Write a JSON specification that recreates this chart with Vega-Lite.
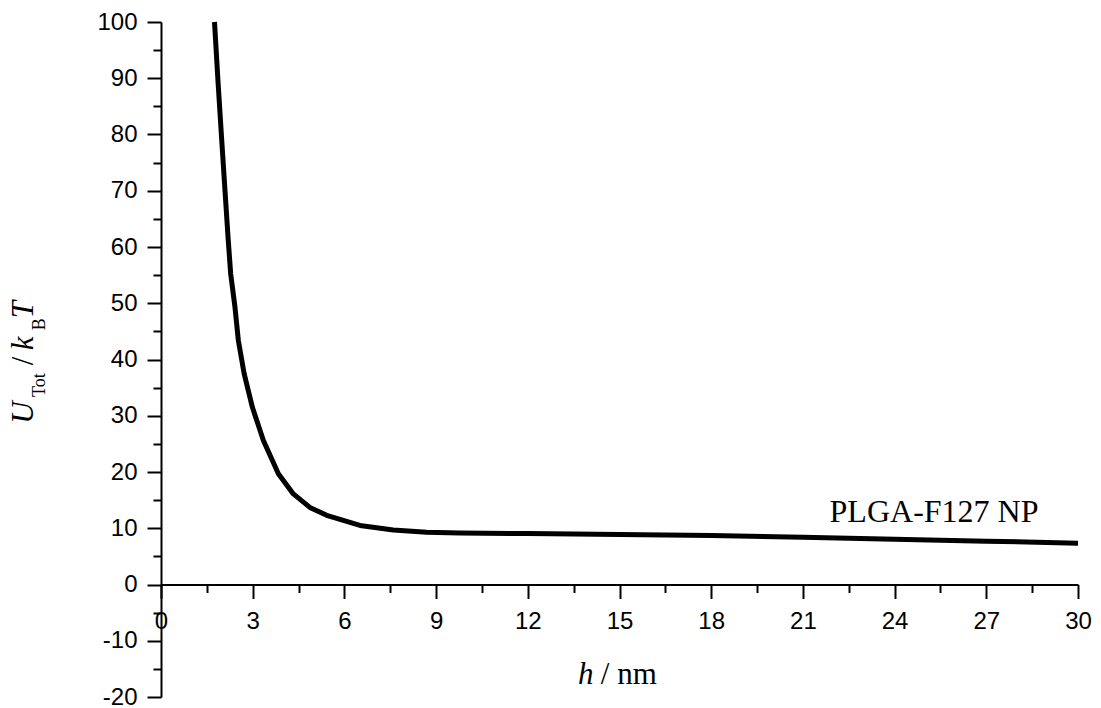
{
  "$schema": "https://vega.github.io/schema/vega-lite/v6.json",
  "width": 917,
  "height": 675,
  "autosize": {"type": "none"},
  "padding": {"left": 161, "top": 22, "right": 23, "bottom": 11},
  "background": "white",
  "config": {
    "view": {"stroke": null},
    "axis": {
      "grid": false,
      "domainColor": "black",
      "domainWidth": 2,
      "tickColor": "black",
      "tickWidth": 2,
      "labelColor": "black",
      "labelFont": "Liberation Sans",
      "labelFontSize": 24,
      "labelFlush": false,
      "labelOverlap": false,
      "title": null
    }
  },
  "datasets": {
    "curve": [
      {"h": 1.75, "U": 100},
      {"h": 1.87, "U": 89},
      {"h": 1.995, "U": 78.3},
      {"h": 2.1, "U": 69.5},
      {"h": 2.2, "U": 61.2},
      {"h": 2.28, "U": 55.2},
      {"h": 2.42, "U": 49.3},
      {"h": 2.53, "U": 43.4},
      {"h": 2.72, "U": 37.5},
      {"h": 2.99, "U": 31.5},
      {"h": 3.35, "U": 25.6},
      {"h": 3.84, "U": 19.7},
      {"h": 4.33, "U": 16.1},
      {"h": 4.87, "U": 13.7},
      {"h": 5.42, "U": 12.3},
      {"h": 6.51, "U": 10.5},
      {"h": 7.6, "U": 9.7},
      {"h": 8.69, "U": 9.3},
      {"h": 9.78, "U": 9.15},
      {"h": 12, "U": 9.05},
      {"h": 15, "U": 8.9},
      {"h": 18, "U": 8.7},
      {"h": 21, "U": 8.4},
      {"h": 24, "U": 8.05},
      {"h": 27, "U": 7.7},
      {"h": 30, "U": 7.35}
    ],
    "label": [{"h": 25.29, "U": 11.2, "text": "PLGA-F127 NP"}],
    "ytitleItalic": [
      {"h": -4.187, "U": 28.6, "text": "U"},
      {"h": -4.187, "U": 41.64, "text": "k"},
      {"h": -4.187, "U": 47.33, "text": "T"}
    ],
    "ytitleRoman": [{"h": -4.187, "U": 38.97, "text": "/"}],
    "ytitleSub": [
      {"h": -3.81, "U": 33.33, "text": "Tot"},
      {"h": -3.81, "U": 45.2, "text": "B"}
    ],
    "xtitleItalic": [{"h": 13.64, "U": -17.67, "text": "h"}],
    "xtitleRoman": [{"h": 14.39, "U": -17.67, "text": "/ nm"}]
  },
  "resolve": {"axis": {"x": "independent", "y": "independent"}},
  "layer": [
    {
      "data": {"name": "curve"},
      "mark": {"type": "line", "color": "black", "strokeWidth": 5, "strokeJoin": "round", "strokeCap": "butt"},
      "encoding": {
        "x": {
          "field": "h", "type": "quantitative",
          "scale": {"domain": [0, 30], "nice": false, "zero": false},
          "axis": {
            "orient": "bottom",
            "offset": -112.5,
            "values": [0, 3, 6, 9, 12, 15, 18, 21, 24, 27, 30],
            "tickSize": 14,
            "labelPadding": 11
          }
        },
        "y": {
          "field": "U", "type": "quantitative",
          "scale": {"domain": [-20, 100], "nice": false, "zero": false},
          "axis": {
            "orient": "left",
            "values": [-20, -10, 0, 10, 20, 30, 40, 50, 60, 70, 80, 90, 100],
            "tickSize": 14,
            "labelPadding": 10,
            "labelExpr": "replace(datum.label, '\u2212', '-')"
          }
        }
      }
    },
    {
      "data": {"name": "label"},
      "mark": {"type": "text", "font": "Liberation Serif", "fontSize": 32, "color": "black", "align": "center", "baseline": "alphabetic"},
      "encoding": {
        "x": {
          "field": "h", "type": "quantitative",
          "axis": {
            "orient": "bottom",
            "offset": -112.5,
            "values": [1.5, 4.5, 7.5, 10.5, 13.5, 16.5, 19.5, 22.5, 25.5, 28.5],
            "tickSize": 8,
            "labels": false,
            "domain": false
          }
        },
        "y": {
          "field": "U", "type": "quantitative",
          "axis": {
            "orient": "left",
            "values": [-15, -5, 5, 15, 25, 35, 45, 55, 65, 75, 85, 95],
            "tickSize": 8,
            "labels": false,
            "domain": false
          }
        },
        "text": {"field": "text"}
      }
    },
    {
      "data": {"name": "ytitleItalic"},
      "mark": {"type": "text", "font": "Liberation Serif", "fontStyle": "italic", "fontSize": 31, "color": "black", "angle": 270, "align": "left", "baseline": "alphabetic"},
      "encoding": {
        "x": {"field": "h", "type": "quantitative", "axis": null},
        "y": {"field": "U", "type": "quantitative", "axis": null},
        "text": {"field": "text"}
      }
    },
    {
      "data": {"name": "ytitleRoman"},
      "mark": {"type": "text", "font": "Liberation Serif", "fontSize": 31, "color": "black", "angle": 270, "align": "left", "baseline": "alphabetic"},
      "encoding": {
        "x": {"field": "h", "type": "quantitative", "axis": null},
        "y": {"field": "U", "type": "quantitative", "axis": null},
        "text": {"field": "text"}
      }
    },
    {
      "data": {"name": "ytitleSub"},
      "mark": {"type": "text", "font": "Liberation Serif", "fontSize": 18, "color": "black", "angle": 270, "align": "left", "baseline": "alphabetic"},
      "encoding": {
        "x": {"field": "h", "type": "quantitative", "axis": null},
        "y": {"field": "U", "type": "quantitative", "axis": null},
        "text": {"field": "text"}
      }
    },
    {
      "data": {"name": "xtitleItalic"},
      "mark": {"type": "text", "font": "Liberation Serif", "fontStyle": "italic", "fontSize": 31, "color": "black", "align": "left", "baseline": "alphabetic"},
      "encoding": {
        "x": {"field": "h", "type": "quantitative", "axis": null},
        "y": {"field": "U", "type": "quantitative", "axis": null},
        "text": {"field": "text"}
      }
    },
    {
      "data": {"name": "xtitleRoman"},
      "mark": {"type": "text", "font": "Liberation Serif", "fontSize": 31, "color": "black", "align": "left", "baseline": "alphabetic"},
      "encoding": {
        "x": {"field": "h", "type": "quantitative", "axis": null},
        "y": {"field": "U", "type": "quantitative", "axis": null},
        "text": {"field": "text"}
      }
    }
  ]
}
